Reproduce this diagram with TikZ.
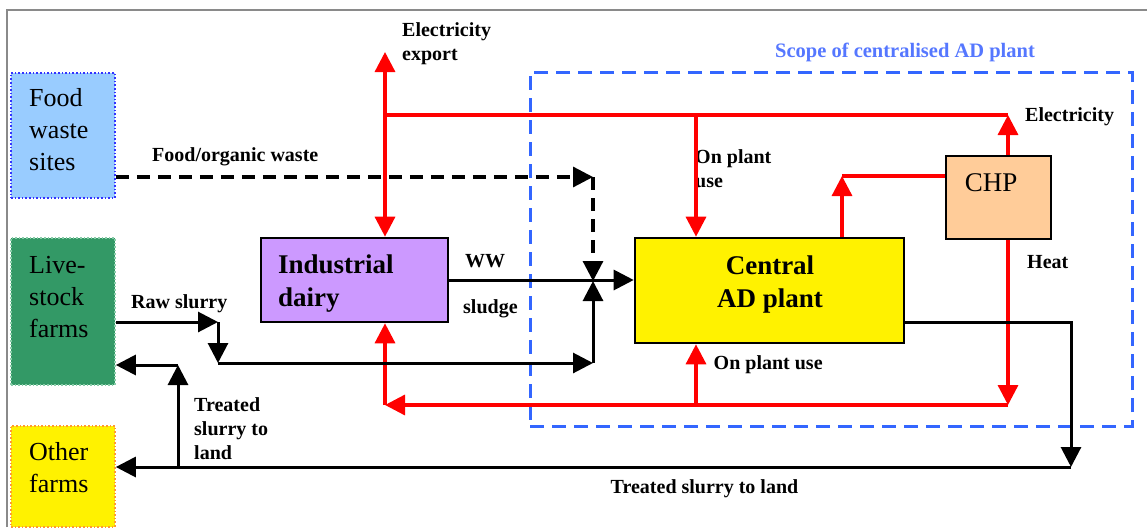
\documentclass[tikz,border=0pt]{standalone}
\usepackage{fontspec}
\setmainfont{Liberation Serif}
\usetikzlibrary{arrows.meta,calc}
\definecolor{foodblue}{HTML}{99CCFF}
\definecolor{foodborder}{HTML}{3333FF}
\definecolor{livegreen}{HTML}{339966}
\definecolor{liveborder}{HTML}{88CCA8}
\definecolor{otherborder}{HTML}{FF9933}
\definecolor{dairyc}{HTML}{CC99FF}
\definecolor{chpc}{HTML}{FFCC99}
\definecolor{scopeblue}{HTML}{3366FF}
\definecolor{scopetext}{HTML}{5577FF}
\definecolor{framegray}{HTML}{8A8A8A}
\tikzset{
  lbl/.style={font=\fontsize{20}{24}\selectfont\bfseries, inner sep=0pt, align=left, anchor=west},
  boxtxt/.style={font=\fontsize{26}{32}\selectfont, inner sep=0pt, align=left, anchor=west},
  boldtxt/.style={font=\fontsize{27}{33}\selectfont\bfseries, inner sep=0pt},
  leftbox/.style={rectangle, inner sep=0pt, minimum width=104pt, line width=1.6pt, dotted},
  procbox/.style={rectangle, inner sep=0pt, draw=black, line width=2.6pt},
  elec/.style={draw=red, line width=3.3pt},
  matflow/.style={draw=black, line width=3pt},
  matdash/.style={draw=black, line width=3.2pt, dash pattern=on 13pt off 8pt},
  arr/.style={-{Triangle[length=20pt,width=20pt]}},
  scopebox/.style={rectangle, draw=scopeblue, line width=3pt, dash pattern=on 14pt off 8pt, inner sep=0pt},
  framel/.style={draw=framegray, line width=1.6pt}
}
\begin{document}
\begin{tikzpicture}[x=1pt,y=-1pt]
\useasboundingbox (0,0) rectangle (1147,527);
\fill[white] (0,0) rectangle (1147,527);
\draw[framel] (7,527) -- (7,10) -- (1147,10);

% scope of centralised plant
\node[scopebox, minimum width=602pt, minimum height=354pt] (scope) at (831,249) {};
\node[lbl, text=scopetext, font=\fontsize{20.5}{24}\selectfont\bfseries] (scope-t) at (775,52.5) {Scope of centralised AD plant};

% left boxes
\node[leftbox, fill=foodblue, draw=foodborder, minimum height=125pt] (food) at (63,135.5) {};
\node[boxtxt] (food-t) at (29,129.6) {Food\\waste\\sites};
\node[leftbox, fill=livegreen, draw=liveborder, minimum height=147pt] (live) at (63,311.5) {};
\node[boxtxt] (live-t) at (29,296.6) {Live-\\stock\\farms};
\node[leftbox, fill=yellow, draw=otherborder, minimum height=101pt] (other) at (63,476.5) {};
\node[boxtxt] (other-t) at (29,467.6) {Other\\farms};

% process boxes
\node[procbox, fill=dairyc, minimum width=187pt, minimum height=84pt] (dairy) at (354.5,280) {};
\node[boldtxt, align=left, anchor=west] (dairy-t) at (278,283.2) {Industrial\\dairy};
\node[procbox, fill=yellow, minimum width=269pt, minimum height=105pt] (ad) at (769.5,290.5) {};
\node[boldtxt, align=center] (ad-t) at (770,284.2) {Central\\AD plant};
\node[procbox, fill=chpc, line width=2.2pt, minimum width=105pt, minimum height=83pt] (chp) at (998.5,197.5) {};
\node[inner sep=0pt, font=\fontsize{27}{32}\selectfont] (chp-t) at (991,183) {CHP};

% labels
\node[lbl] (elexp) at (402,44) {Electricity\\export};
\node[lbl] (opu1) at (695,169) {On plant\\use};
\node[lbl] (elec-t) at (1025,116.5) {Electricity};
\node[lbl] (heat-t) at (1027,262.5) {Heat};
\node[lbl] (opu2) at (713.5,364.5) {On plant use};
\node[lbl] (ww-t) at (465,261.5) {WW};
\node[lbl] (sl-t) at (463,308.5) {sludge};
\node[lbl] (fow-t) at (152,156.5) {Food/organic waste};
\node[lbl] (raw-t) at (131,303.5) {Raw slurry};
\node[lbl] (tsl-t) at (194,429) {Treated\\slurry to\\land};
\node[lbl] (tsl2-t) at (610.5,488.5) {Treated slurry to land};

% coordinates of corners and junctions
\coordinate (ec) at (1008,115);
\coordinate (ej) at (385,115);
\coordinate (ex) at (385,52);
\coordinate (ou) at (696,115);
\coordinate (bg) at (842,176);
\coordinate (hc) at (1008,405);
\coordinate (hl) at (385,405);
\coordinate (hu) at (696,405);

% electricity and heat (red)
\draw[elec,arr] (chp.north -| ec) -- (ec);
\draw[elec] (ec) -- (ej);
\draw[elec,arr] (ej) -- (ex);
\draw[elec,arr] (ej) -- (dairy.north -| ej);
\draw[elec,arr] (ou) -- (ad.north -| ou);
\draw[elec,arr] (ad.north -| bg) -- (bg);
\draw[elec] (bg) -- (chp.west |- bg);
\draw[elec,arr] (chp.south -| hc) -- (hc);
\draw[elec,arr] (hc) -- (hl);
\draw[elec,arr] (hl) -- (dairy.south -| hl);
\draw[elec,arr] (hu) -- (ad.south -| hu);

% material flows (black)
\coordinate (j) at (593,281);
\coordinate (fc) at (593,177);
\coordinate (rs) at (218,322);
\coordinate (rd) at (218,363);
\coordinate (sb) at (593,363);
\coordinate (tc) at (1071,467);
\coordinate (tb) at (178,467);
\coordinate (tr) at (178,365);

\draw[matflow,arr] (dairy.east) -- (ad.west |- dairy.east);
\draw[matdash,arr] (food.east |- fc) -- (fc);
\draw[matdash,arr] (fc) -- (j);
\draw[matflow,arr] (live.east |- rs) -- (rs);
\draw[matflow,arr] (rs) -- (rd);
\draw[matflow,arr] (rd) -- (sb);
\draw[matflow,arr] (sb) -- (j);
\draw[matflow,arr] (ad.east |- rs) -| (tc);
\draw[matflow,arr] (tc) -- (other.east |- tc);
\draw[matflow,arr] (tb) -- (tr);
\draw[matflow,arr] (tr) -- (live.east |- tr);
\end{tikzpicture}
\end{document}
